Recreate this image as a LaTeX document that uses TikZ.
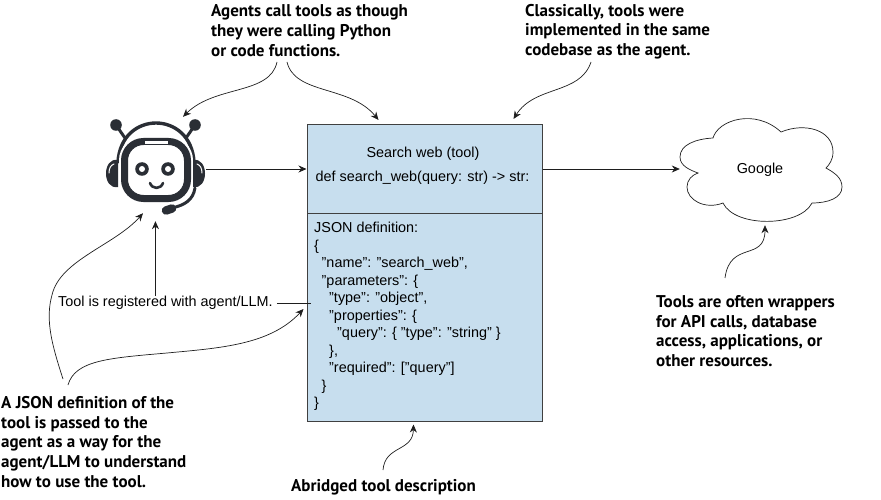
\documentclass[tikz,border=0pt]{standalone}
\usepackage{fontspec}
\setmainfont{Liberation Sans}
\newfontfamily\notefont[Scale=1.0]{PT Sans}
\usetikzlibrary{arrows.meta}
\definecolor{toolBlue}{HTML}{C7DEEE}
\definecolor{toolLine}{HTML}{1E1E1E}
\definecolor{botDark}{HTML}{2A2E35}
\tikzset{
  tool arrow/.style={draw=toolLine, line width=0.7pt, -{Stealth[length=8pt,width=7pt]}},
  tool link/.style={draw=toolLine, line width=0.7pt},
  tool box/.style={draw=toolLine!85, fill=toolBlue, line width=1pt, minimum width=235pt, inner sep=0pt},
  tool text/.style={font=\fontsize{14.4}{17.5}\selectfont, text=black, inner sep=0pt},
  tool note/.style={font=\notefont\bfseries\fontsize{17}{19.8}\selectfont, text=black, align=left, inner sep=0pt},
  bot line/.style={draw=botDark, line cap=round},
}

\begin{document}
\begin{tikzpicture}[x=1pt, y=-1pt]
  \useasboundingbox (0,0) rectangle (881,500);
  % Tool card, two parts
  \node[tool box, minimum height=89pt] (toolweb) at (424.5,169) {};
  \node[tool box, minimum height=208pt] (toolschema) at (424.5,317) {};
  \node[tool text] (toolname) at (423,153.5) {Search web (tool)};
  \node[tool text] (toolsig) at (422.5,178) {def search\_web(query: str) -> str:};
  \node[tool text, align=left, anchor=north west] (tooljson) at (314,222) {JSON definition:\\
    \{\\
    \hspace*{7.5pt}"name": "search\_web",\\
    \hspace*{7.5pt}"parameters": \{\\
    \hspace*{15pt}"type": "object",\\
    \hspace*{15pt}"properties": \{\\
    \hspace*{23pt}"query": \{ "type": "string" \}\\
    \hspace*{15pt}\},\\
    \hspace*{15pt}"required": ["query"]\\
    \hspace*{7.5pt}\}\\
    \}};

  % Robot with headset
  \node[minimum width=100pt, minimum height=104pt, inner sep=0pt] (robot) at (156,169) {};
  \draw[bot line, line width=3.4pt] (118,162) .. controls (121,110) and (191,110) .. (194,162);
  \foreach \bx/\by/\sx in {116/125/125, 195/125/186} {
    \draw[bot line, line width=3pt] (\bx,\by) -- (\sx,138);
    \fill[botDark] (\bx,\by) circle (5.8pt);
  }
  \draw[white, line width=11pt, rounded corners=19pt] (124.5,141.5) rectangle (187.5,198.5);
  \draw[draw=botDark, line width=7pt, rounded corners=19pt] (124.5,141.5) rectangle (187.5,198.5);
  \fill[white] (145,140.8) rectangle (168,143.6);
  % Ear cups
  \fill[botDark] (118,160) .. controls (102,157) and (102,190) .. (118,187) -- cycle;
  \fill[botDark] (193,160) .. controls (209,157) and (209,190) .. (193,187) -- cycle;
  \draw[white, line width=1pt, line cap=round] (109,173) .. controls (109,168) and (111,165) .. (114,164);
  \draw[white, line width=1pt, line cap=round] (202,173) .. controls (202,168) and (200,165) .. (197,164);
  % Mic
  \draw[bot line, line width=3pt] (195,188) .. controls (193,200) and (185,205) .. (172,208);
  \draw[bot line, line width=8.5pt] (166,210.5) -- (172,208.5);
  % Face
  \foreach \ex in {142,168} {
    \fill[botDark] (\ex,169) circle (6.8pt);
    \fill[white] (\ex,169) circle (3pt);
  }
  \draw[bot line, line width=2.6pt] (150,183) .. controls (152,189.5) and (161,189.5) .. (163,183);

  % Cloud
  \node[tool text, minimum width=160pt, minimum height=90pt, text height=13pt, text depth=3pt] (cloud) at (760,169) {Google};
  \draw[tool link] (680,157) .. controls (680,145) and (695,139) .. (713,138)
    .. controls (718,120) and (755,108) .. (781,132)
    .. controls (805,122) and (833,130) .. (833,152)
    .. controls (833,160) and (829,165) .. (826,168)
    .. controls (835,173) and (842,178) .. (842,187)
    .. controls (842,198) and (828,203) .. (812,203)
    .. controls (800,227) and (735,228) .. (723,203)
    .. controls (705,210) and (687,200) .. (687,187)
    .. controls (687,180) and (692,175) .. (698,173)
    .. controls (690,170) and (680,166) .. (680,157) -- cycle;

  % Notes
  \node[tool note, anchor=south west] (noteagents) at (211,57) {Agents call tools as though\\they were calling Python\\or code functions.};
  \node[tool note, anchor=south west] (noteclassic) at (525,59.5) {Classically, tools were\\implemented in the same\\codebase as the agent.};
  \node[tool note, anchor=north west] (notewrap) at (656,295) {Tools are often wrappers\\for API calls, database\\access, applications, or\\other resources.};
  \node[tool note, anchor=north west] (notejson) at (1,396) {A JSON definition of the\\tool is passed to the\\agent as a way for the\\agent/LLM to understand\\how to use the tool.};
  \node[tool note, anchor=north west] (noteabridged) at (291,479) {Abridged tool description};
  \node[tool text, anchor=west] (notereg) at (58,303) {Tool is registered with agent/LLM.};

  % Connectors
  \draw[tool arrow] (robot.east) -- (toolweb.west);
  \draw[tool arrow] (toolweb.east) -- (cloud.west);
  \draw[tool link] ([xshift=4pt]notereg.east) -- ([xshift=4pt]notereg.east -| toolschema.west);
  \draw[tool arrow] ([xshift=-10pt]notereg.north) -- ([xshift=-10pt]notereg.north |- robot.south);
  \draw[tool arrow] ([xshift=66pt,yshift=-5pt]noteagents.south west) .. controls (270,95) and (215,85) .. ([xshift=27pt,yshift=0pt]robot.north);
  \draw[tool arrow] ([xshift=76pt,yshift=-5pt]noteagents.south west) .. controls (295,95) and (350,85) .. ([xshift=-46pt,yshift=4pt]toolweb.north);
  \draw[tool arrow] ([xshift=66pt,yshift=-2.5pt]noteclassic.south west) .. controls (580,95) and (535,85) .. ([xshift=89pt,yshift=5pt]toolweb.north);
  \draw[tool arrow] ([xshift=69pt,yshift=17pt]notewrap.north west) .. controls (730,240) and (765,262) .. ([xshift=5pt,yshift=-11pt]cloud.south);
  \draw[tool arrow] ([xshift=92pt,yshift=9pt]noteabridged.north west) .. controls (385,445) and (413,452) .. ([xshift=-11pt,yshift=-3pt]toolschema.south);
  \draw[tool arrow] ([xshift=62pt,yshift=17pt]notejson.north west) .. controls (52,345) and (45,320) .. (52,295)
    .. controls (60,260) and (115,245) .. ([xshift=-13pt,yshift=8pt]robot.south);
  \draw[tool arrow] ([xshift=67pt,yshift=11pt]notejson.north west) .. controls (75,360) and (110,358) .. (167,353)
    .. controls (220,348) and (270,345) .. ([xshift=-3pt,yshift=8pt]toolschema.west);
\end{tikzpicture}
\end{document}
